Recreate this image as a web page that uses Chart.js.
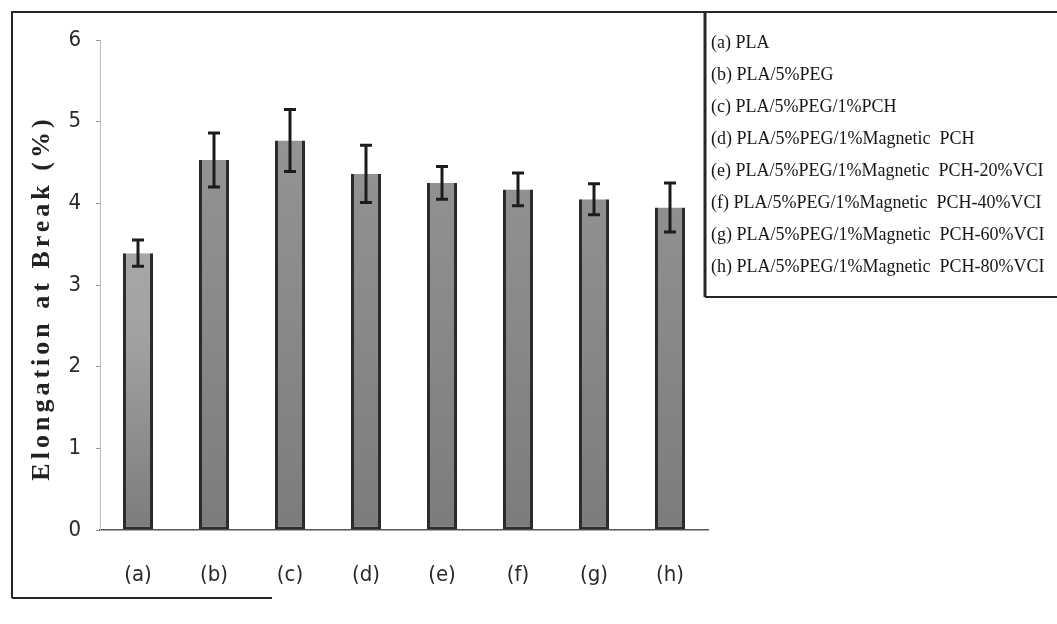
<!DOCTYPE html>
<html>
<head>
<meta charset="utf-8">
<script src="https://cdn.jsdelivr.net/npm/chart.js@4.4.1/dist/chart.umd.min.js"></script>
<style>
  html, body { margin: 0; padding: 0; background: #ffffff; }
  #wrap { width: 1057px; height: 624px; position: relative; }
</style>
</head>
<body>
<div id="wrap"><canvas id="chart" width="1057" height="624"></canvas></div>
<script>
// Sample codes shown along the x axis
const categories = ['(a)', '(b)', '(c)', '(d)', '(e)', '(f)', '(g)', '(h)'];
// Mean elongation at break (%)
const elongation = [3.39, 4.53, 4.77, 4.36, 4.25, 4.17, 4.05, 3.95];
// Standard deviation for each sample
const elongationSD = [0.16, 0.33, 0.38, 0.35, 0.20, 0.20, 0.19, 0.30];
// Y axis tick values
const yTicks = [0, 1, 2, 3, 4, 5, 6];
// Sample descriptions for the key
const legendLabels = [
  '(a) PLA',
  '(b) PLA/5%PEG',
  '(c) PLA/5%PEG/1%PCH',
  '(d) PLA/5%PEG/1%Magnetic  PCH',
  '(e) PLA/5%PEG/1%Magnetic  PCH-20%VCI',
  '(f) PLA/5%PEG/1%Magnetic  PCH-40%VCI',
  '(g) PLA/5%PEG/1%Magnetic  PCH-60%VCI',
  '(h) PLA/5%PEG/1%Magnetic  PCH-80%VCI'
];
const yTitle = 'Elongation at Break (%)';

const narrowFont = "'Liberation Sans Narrow', 'DejaVu Sans Condensed', 'Arial Narrow', sans-serif";
const serifFont = "'Liberation Serif', 'DejaVu Serif', serif";

// Error bars drawn through the value scale
const errorBarPlugin = {
  id: 'errorBars',
  afterDatasetsDraw(chart) {
    const ctx = chart.ctx;
    const yScale = chart.scales.y;
    const meta = chart.getDatasetMeta(0);
    ctx.save();
    ctx.strokeStyle = '#1c1c1c';
    ctx.lineCap = 'butt';
    meta.data.forEach((bar, i) => {
      const v = elongation[i];
      const sd = elongationSD[i];
      const yTop = yScale.getPixelForValue(v + sd);
      const yBot = yScale.getPixelForValue(v - sd);
      const x = bar.x;
      ctx.lineWidth = 3;
      ctx.beginPath();
      ctx.moveTo(x, yTop);
      ctx.lineTo(x, yBot);
      ctx.stroke();
      ctx.beginPath();
      ctx.moveTo(x - 6, yTop);
      ctx.lineTo(x + 6, yTop);
      ctx.moveTo(x - 6, yBot);
      ctx.lineTo(x + 6, yBot);
      ctx.stroke();
    });
    ctx.restore();
  }
};

// Frame, key box, key text and rotated axis title
const decorPlugin = {
  id: 'decor',
  afterDraw(chart) {
    const ctx = chart.ctx;
    ctx.save();
    // outer frame
    ctx.strokeStyle = '#262626';
    ctx.lineWidth = 2;
    ctx.beginPath();
    ctx.moveTo(12, 598);
    ctx.lineTo(12, 12);
    ctx.lineTo(1057, 12);
    ctx.moveTo(12, 598);
    ctx.lineTo(272, 598);
    ctx.stroke();
    // key box
    ctx.lineWidth = 3;
    ctx.beginPath();
    ctx.moveTo(705, 12);
    ctx.lineTo(705, 297);
    ctx.stroke();
    ctx.lineWidth = 2;
    ctx.beginPath();
    ctx.moveTo(705, 297);
    ctx.lineTo(1057, 297);
    ctx.stroke();
    // key text
    ctx.fillStyle = '#161616';
    ctx.font = '18px ' + serifFont;
    ctx.textBaseline = 'middle';
    ctx.textAlign = 'left';
    legendLabels.forEach((t, i) => {
      ctx.fillText(t, 711, 43 + i * 32.1);
    });
    // y axis title
    ctx.translate(42, 298);
    ctx.rotate(-Math.PI / 2);
    ctx.font = 'bold 26px ' + serifFont;
    ctx.fillStyle = '#222222';
    ctx.textAlign = 'center';
    ctx.textBaseline = 'middle';
    if ('letterSpacing' in ctx) ctx.letterSpacing = '4px';
    ctx.fillText(yTitle, 0, 0);
    ctx.restore();
  }
};

function barFill(context) {
  const chart = context.chart;
  const area = chart.chartArea;
  if (!area) return '#8a8a8a';
  const g = chart.ctx.createLinearGradient(0, area.top, 0, area.bottom);
  if (context.dataIndex === 0) {
    g.addColorStop(0, '#b4b4b4');
    g.addColorStop(0.6, '#a2a2a2');
    g.addColorStop(1, '#7c7c7c');
  } else {
    g.addColorStop(0, '#9a9a9a');
    g.addColorStop(1, '#7c7c7c');
  }
  return g;
}

new Chart(document.getElementById('chart'), {
  type: 'bar',
  data: {
    labels: categories,
    datasets: [{
      data: elongation,
      backgroundColor: barFill,
      borderColor: '#2b2b2b',
      borderWidth: { left: 3, right: 3, top: 0, bottom: 3 },
      borderSkipped: false,
      categoryPercentage: 1.0,
      barPercentage: 0.395
    }]
  },
  options: {
    responsive: false,
    animation: false,
    devicePixelRatio: 1,
    layout: { padding: { left: 0, right: 349, top: 40, bottom: 0 } },
    plugins: {
      legend: { display: false },
      tooltip: { enabled: false },
      title: { display: false }
    },
    scales: {
      x: {
        afterFit(scale) { scale.height = 94; },
        grid: { display: false, drawTicks: false },
        border: { display: true, color: '#555555', width: 1.5 },
        ticks: {
          padding: 32,
          color: '#2a2a2a',
          font: { family: narrowFont, size: 22 }
        }
      },
      y: {
        min: 0,
        max: 6,
        afterFit(scale) { scale.width = 100; },
        afterBuildTicks(scale) { scale.ticks = yTicks.map(v => ({ value: v })); },
        grid: { drawOnChartArea: false, drawTicks: true, tickLength: 4, color: '#9a9a9a' },
        border: { display: true, color: '#bdbdbd', width: 1, dash: [2, 2] },
        ticks: {
          padding: 15,
          color: '#2a2a2a',
          font: { family: narrowFont, size: 22 }
        }
      }
    }
  },
  plugins: [errorBarPlugin, decorPlugin]
});
</script>
</body>
</html>
